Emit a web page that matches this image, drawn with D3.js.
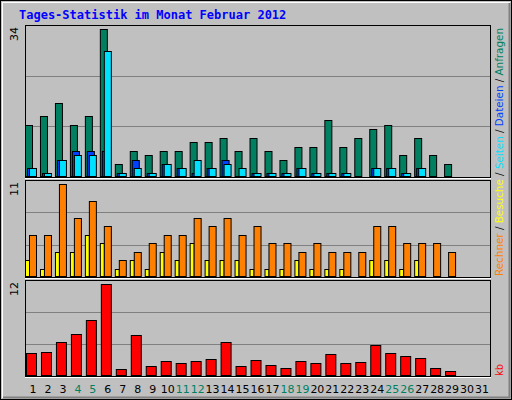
<!DOCTYPE html>
<html><head><meta charset="utf-8">
<script src="https://cdn.jsdelivr.net/npm/d3@7"></script>
<style>body{margin:0;background:#c0c0c0}</style>
</head><body>
<svg id="chart" width="512" height="400"></svg>
<script>
const days = d3.range(1, 32);
const weekends = [4, 5, 11, 12, 18, 19, 25, 26];
const hits  = [12,14,17,12,14,34,3,6,5,6,6,8,8,9,6,9,6,4,7,7,13,7,9,11,12,5,9,5,3];
const files = [2,1,4,6,6,6,1,4,1,3,2,1,2,4,0,1,1,1,2,1,1,1,0,2,2,1,2,0,0];
const pages = [2,1,4,5,5,29,1,2,1,3,2,4,2,3,2,1,1,1,2,1,1,1,0,2,2,1,2,0,0];
const visits = [2,1,3,3,5,4,1,2,1,3,2,4,2,2,2,1,1,1,2,1,1,1,0,2,2,1,2,0,0];
const sites  = [5,5,11,7,9,6,2,3,4,5,5,7,6,7,5,6,4,4,3,4,3,3,3,6,6,4,4,4,3];
const kbytes = [3.07,3.2,4.5,5.56,7.3,12,0.97,5.3,1.36,2.0,1.75,2.0,2.28,4.4,1.36,2.15,1.5,1.1,2.0,1.75,2.94,1.75,1.89,4.1,3.07,2.68,2.4,1.1,0.7];

const svg = d3.select("#chart");
const x = d3.scaleBand().domain(days).range([26, 490]);

// outer frame
svg.append("rect").attr("x", 0.5).attr("y", 0.5).attr("width", 511).attr("height", 399)
  .attr("fill", "#c0c0c0").attr("stroke", "#000");
svg.append("rect").attr("x", 2.5).attr("y", 2.5).attr("width", 507).attr("height", 395)
  .attr("fill", "none").attr("stroke", "#fff");
svg.append("path").attr("d", "M509.5,3V397.5H3").attr("fill", "none").attr("stroke", "#808080").attr("stroke-width", 2);

svg.append("text").attr("x", 19).attr("y", 19).text("Tages-Statistik im Monat Februar 2012")
  .attr("fill", "#0000ff").attr("font-family", "DejaVu Sans Mono").attr("font-weight", "bold").attr("font-size", 12);

function panel(top, bottom, maxLabel, maxY) {
  svg.append("rect").attr("x", 25.5).attr("y", top + 0.5).attr("width", 465).attr("height", bottom - top)
    .attr("fill", "#c0c0c0").attr("stroke", "#000");
  svg.append("line").attr("x1", 25).attr("x2", 491).attr("y1", bottom + 1.5).attr("y2", bottom + 1.5).attr("stroke", "#fff");
  const h = bottom - top;
  [1, 2].forEach(i => {
    svg.append("line").attr("x1", 26).attr("x2", 490)
      .attr("y1", Math.round(bottom - h * i / 3) + 0.5).attr("y2", Math.round(bottom - h * i / 3) + 0.5)
      .attr("stroke", "#808080").attr("stroke-width", 1);
  });
  svg.append("text").attr("transform", `translate(18,${top + 2}) rotate(-90)`)
    .attr("text-anchor", "end").attr("font-family", "DejaVu Sans").attr("font-size", 11)
    .text(maxLabel);
  return d3.scaleLinear().domain([0, maxLabel]).range([bottom, maxY]);
}

function drawBars(data, y, color, dx, w) {
  const g = svg.append("g");
  data.forEach((d, i) => {
    if (d <= 0) return;
    g.append("rect")
      .attr("x", x(i + 1) + dx + 0.5)
      .attr("y", Math.round(y(d)) + 0.5)
      .attr("width", w)
      .attr("height", y(0) - Math.round(y(d)) - 1)
      .attr("fill", color).attr("stroke", "#000");
  });
}

const y1 = panel(25, 177, 34, 29);
drawBars(hits, y1, "#008060", -1, 7);
drawBars(files, y1, "#0040ff", 1, 7);
drawBars(pages, y1, "#00e0ff", 3, 7);

const y2 = panel(180, 277, 11, 184.3);
drawBars(visits, y2, "#ffff00", -1, 4);
drawBars(sites, y2, "#ff8000", 3, 7);

const y3 = panel(280, 376, 12, 284.3);
drawBars(kbytes, y3, "#ff0000", 0, 10);

// day labels
svg.append("g").selectAll("text").data(days).join("text")
  .attr("x", d => x(d) + 7).attr("y", 393).attr("text-anchor", "middle")
  .attr("font-family", "DejaVu Sans").attr("font-size", 11)
  .attr("fill", d => weekends.includes(d) ? "#008060" : "#000")
  .text(d => d);

// right side labels
function sideLabel(yBottom, len, parts) {
  const t = svg.append("text").attr("transform", `translate(503,${yBottom}) rotate(-90)`)
    .attr("font-family", "DejaVu Sans").attr("font-size", 10)
    .attr("textLength", len).attr("lengthAdjust", "spacingAndGlyphs");
  parts.forEach(([s, c]) => t.append("tspan").attr("fill", c).text(s));
}
sideLabel(276, 248, [["Rechner", "#ff8000"], [" / ", "#000"], ["Besuche", "#ffff00"], [" / ", "#000"],
  ["Seiten", "#00e0ff"], [" / ", "#000"], ["Dateien", "#0040ff"], [" / ", "#000"], ["Anfragen", "#008060"]]);
sideLabel(376, 12, [["kb", "#ff0000"]]);
</script>
</body></html>
